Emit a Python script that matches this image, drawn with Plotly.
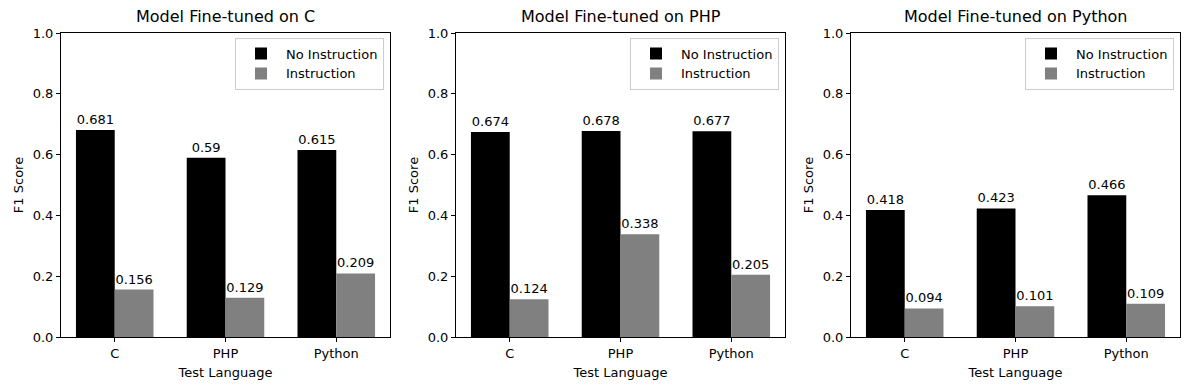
import plotly.graph_objects as go

languages = ["C", "PHP", "Python"]
panel_titles = ["Model Fine-tuned on C", "Model Fine-tuned on PHP", "Model Fine-tuned on Python"]
no_instruction = [
    [0.681, 0.59, 0.615],
    [0.674, 0.678, 0.677],
    [0.418, 0.423, 0.466],
]
instruction = [
    [0.156, 0.129, 0.209],
    [0.124, 0.338, 0.205],
    [0.094, 0.101, 0.109],
]
yticks = [0.0, 0.2, 0.4, 0.6, 0.8, 1.0]

W, H = 1189, 390
domains = [(61, 390), (456, 785), (851, 1180)]
font = "DejaVu Sans, sans-serif"

fig = go.Figure()
layout = dict(
    width=W, height=H,
    margin=dict(l=0, r=0, t=33, b=53, autoexpand=False),
    plot_bgcolor="white", paper_bgcolor="white",
    barmode="group", bargap=0.3, bargroupgap=0,
    font=dict(family=font, size=13, color="black"),
    annotations=[],
)

for i in range(3):
    sfx = "" if i == 0 else str(i + 1)
    xa, ya = "x" + sfx, "y" + sfx
    leg = "legend" + sfx
    xpos = list(range(len(languages)))
    fig.add_trace(go.Bar(
        x=xpos, y=no_instruction[i], name="No Instruction",
        marker=dict(color="black", line=dict(width=0)),
        text=[str(v) for v in no_instruction[i]], textposition="outside",
        textfont=dict(size=13, color="black"), cliponaxis=False,
        xaxis=xa, yaxis=ya, legend=leg,
    ))
    fig.add_trace(go.Bar(
        x=xpos, y=instruction[i], name="Instruction",
        marker=dict(color="gray", line=dict(width=0)),
        text=[str(v) for v in instruction[i]], textposition="outside",
        textfont=dict(size=13, color="black"), cliponaxis=False,
        xaxis=xa, yaxis=ya, legend=leg,
    ))
    d0, d1 = domains[i]
    axcommon = dict(showline=True, linecolor="black", linewidth=1, mirror=True,
                    ticks="outside", ticklen=4, tickcolor="black", showgrid=False,
                    zeroline=False, tickfont=dict(size=13), automargin=False)
    layout["xaxis" + sfx] = dict(
        domain=[d0 / W, d1 / W], range=[-0.485, 2.485],
        tickvals=xpos, ticktext=languages, anchor=ya,
        title=dict(text="Test Language", font=dict(size=13), standoff=8),
        **axcommon,
    )
    layout["yaxis" + sfx] = dict(
        domain=[0, 1], range=[0, 1], tickvals=yticks,
        ticktext=["%.1f" % t for t in yticks], anchor=xa,
        title=dict(text="F1 Score", font=dict(size=13), standoff=6),
        **axcommon,
    )
    layout[leg] = dict(
        x=(d1 - 6) / W, xanchor="right", y=0.985, yanchor="top",
        bgcolor="rgba(255,255,255,0.8)", bordercolor="#cccccc", borderwidth=1,
        font=dict(size=13), tracegroupgap=0, itemwidth=40,
    )
    layout["annotations"].append(dict(
        text=panel_titles[i], x=(d0 + d1) / 2 / W, xref="paper", xanchor="center",
        y=1, yref="paper", yshift=5, yanchor="bottom", showarrow=False,
        font=dict(size=16, color="black"),
    ))

fig.update_layout(**layout)
# drop the page's default 8px body margin so the figure sits at the window origin
fig.write_html("out.html", config={"displayModeBar": False},
               post_script="document.body.style.margin='0';")
